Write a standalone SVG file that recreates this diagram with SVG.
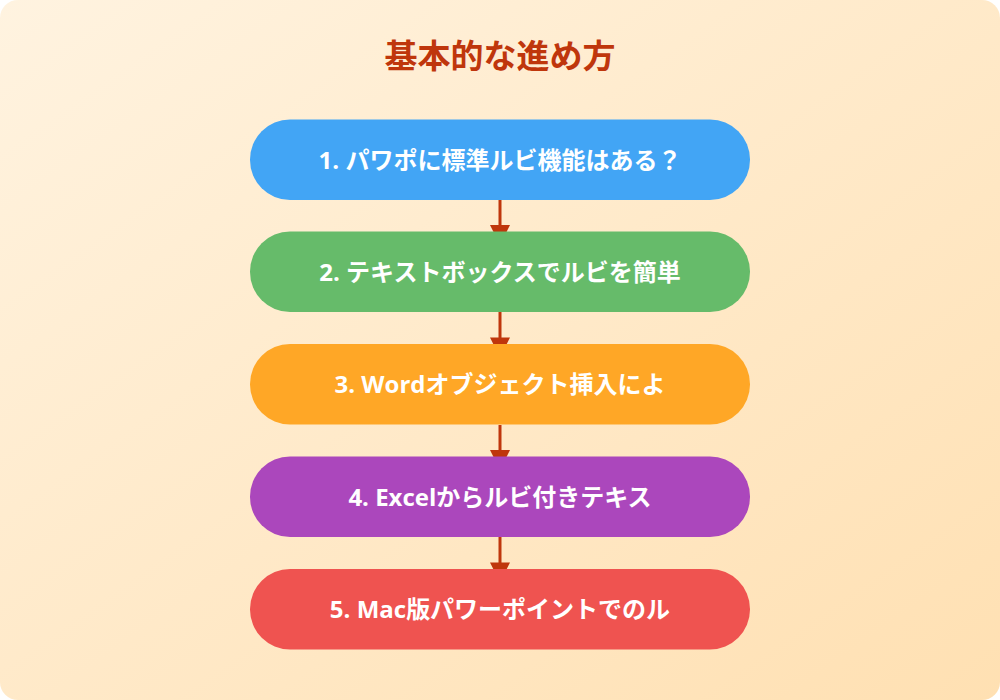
<svg xmlns="http://www.w3.org/2000/svg" width="1000" height="700" viewBox="0 0 1000 700">
<defs>
<linearGradient id="bg" x1="0" y1="0" x2="1" y2="1">
<stop offset="0" stop-color="#fff3e0"/>
<stop offset="1" stop-color="#ffe0b2"/>
</linearGradient>
<style>
.node text{font-family:"Open Sans","Noto Sans CJK JP",sans-serif;font-weight:700;font-size:24px;fill:#ffffff;text-anchor:middle}
.title{font-family:"Noto Sans CJK JP",sans-serif;font-weight:700;font-size:33px;fill:#bf360c;text-anchor:middle}
.conn line{stroke:#bf360c;stroke-width:3}
.conn polygon{fill:#bf360c}
</style>
</defs>
<rect x="0" y="0" width="1000" height="700" rx="18" fill="url(#bg)"/>
<text class="title" x="500" y="68">基本的な進め方</text>
<g id="connectors" class="conn">
<line x1="500" y1="200" x2="500" y2="226"/><polygon points="490,225 510,225 500,245"/>
<line x1="500" y1="312" x2="500" y2="338"/><polygon points="490,337.5 510,337.5 500,357.5"/>
<line x1="500" y1="425" x2="500" y2="451"/><polygon points="490,450 510,450 500,470"/>
<line x1="500" y1="537" x2="500" y2="563"/><polygon points="490,562.5 510,562.5 500,582.5"/>
</g>
<g id="node1" class="node"><rect x="250" y="119.5" width="500" height="80.5" rx="40" fill="#42a5f5"/><text x="500" y="168.5">1. パワポに標準ルビ機能はある？</text></g>
<g id="node2" class="node"><rect x="250" y="231.5" width="500" height="80.5" rx="40" fill="#66bb6a"/><text x="500" y="280.5">2. テキストボックスでルビを簡単</text></g>
<g id="node3" class="node"><rect x="250" y="344" width="500" height="80.5" rx="40" fill="#ffa726"/><text x="500" y="393">3. Wordオブジェクト挿入によ</text></g>
<g id="node4" class="node"><rect x="250" y="456.5" width="500" height="80.5" rx="40" fill="#ab47bc"/><text x="500" y="505.5">4. Excelからルビ付きテキス</text></g>
<g id="node5" class="node"><rect x="250" y="569" width="500" height="80.5" rx="40" fill="#ef5350"/><text x="500" y="618">5. Mac版パワーポイントでのル</text></g>
</svg>
